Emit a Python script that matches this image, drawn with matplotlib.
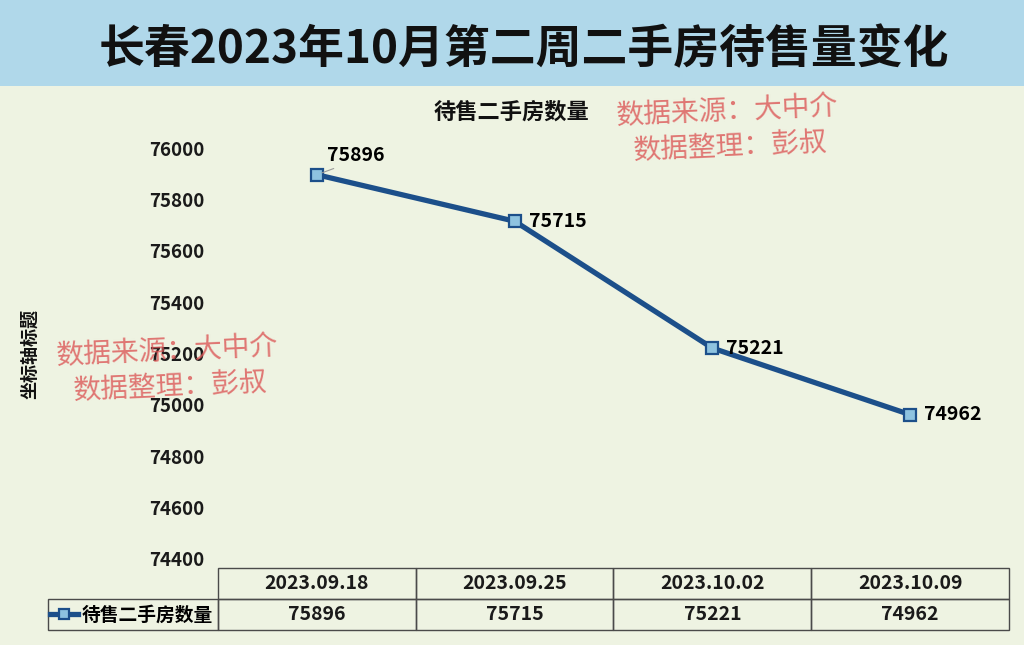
#!/usr/bin/env python3
"""Changchun second-hand housing stock, week 2 of Oct 2023: line chart with data table."""

import matplotlib

matplotlib.use("Agg")
import matplotlib.pyplot as plt
from matplotlib.patches import Rectangle

plt.rcParams["font.family"] = ["Noto Sans CJK SC", "DejaVu Sans"]

TITLE = "长春2023年10月第二周二手房待售量变化"
SERIES_NAME = "待售二手房数量"
AXIS_LABEL = "坐标轴标题"
WATERMARK = ["数据来源：大中介", "数据整理：彭叔"]

dates = ["2023.09.18", "2023.09.25", "2023.10.02", "2023.10.09"]
stock = [75896, 75715, 75221, 74962]
y_ticks = [74400, 74600, 74800, 75000, 75200, 75400, 75600, 75800, 76000]

BG = "#eef3e2"
BANNER = "#b0d8ea"
LINE = "#1c4f8a"
MARKER_FACE = "#8ec3e0"
RED = "#dc5757"

W, H = 1024, 652


def fx(px):
    return px / W


def fy(py):
    return 1 - py / H


def main():
    fig = plt.figure(figsize=(W / 100, H / 100), dpi=100, facecolor=BG)

    # banner + white strip at the bottom
    fig.patches.append(Rectangle((0, fy(86)), 1, 86 / H, transform=fig.transFigure,
                                 facecolor=BANNER, edgecolor="none", zorder=0))
    fig.patches.append(Rectangle((0, 0), 1, 7 / H, transform=fig.transFigure,
                                 facecolor="white", edgecolor="none", zorder=0))

    fig.text(fx(524), fy(50), TITLE, ha="center", va="center",
             fontsize=33, fontweight="bold", color="#111111")

    left, right, top, bottom = 218, 1009, 148, 559
    ax = fig.add_axes([fx(left), fy(bottom), (right - left) / W, (bottom - top) / H])
    ax.set_facecolor("none")
    for sp in ax.spines.values():
        sp.set_visible(False)

    x = list(range(len(dates)))
    line, = ax.plot(x, stock, color=LINE, lw=3.8, marker="s", markersize=8.5,
                    markerfacecolor=MARKER_FACE, markeredgecolor=LINE,
                    markeredgewidth=1.6, clip_on=False, zorder=3)

    ax.set_xlim(-0.5, len(dates) - 0.5)
    ax.set_ylim(y_ticks[0], y_ticks[-1])
    ax.set_xticks([])
    ax.set_yticks(y_ticks)
    ax.tick_params(axis="y", length=0, pad=10, labelsize=13.5)
    for lab in ax.get_yticklabels():
        lab.set_fontweight("bold")
        lab.set_color("#1a1a1a")

    # data labels
    for i, (xi, v) in enumerate(zip(x, stock)):
        if i == 0:
            ax.annotate(f"{v}", (xi, v), xytext=(7, 14), textcoords="offset points",
                        ha="left", va="center", fontsize=14, fontweight="bold",
                        arrowprops=dict(arrowstyle="-", color="#9a9a9a", lw=0.8,
                                        shrinkA=2, shrinkB=4, relpos=(0.3, 0)))
        else:
            ax.annotate(f"{v}", (xi, v), xytext=(10, 0), textcoords="offset points",
                        ha="left", va="center", fontsize=14, fontweight="bold")

    # data table under the plot
    tab_top, tab_bottom = 568, 630
    span = bottom - top
    tb = ax.table(cellText=[[f"{v}" for v in stock]], colLabels=dates, cellLoc="center",
                  bbox=[0, (bottom - tab_bottom) / span, 1, (tab_bottom - tab_top) / span])
    col_w = tb[1, 0].get_width()
    tb.add_cell(1, -1, width=col_w * (left - 48) / ((right - left) / len(dates)),
                height=tb[1, 0].get_height(), text="", loc="left")
    tb.auto_set_font_size(False)
    tb.set_fontsize(14)
    for cell in tb.get_celld().values():
        cell.set_facecolor("none")
        cell.set_edgecolor("#4a4a4a")
        cell.set_linewidth(1.0)
        cell.get_text().set_fontweight("bold")
        cell.get_text().set_color("#1a1a1a")

    ax.legend([line], [SERIES_NAME], loc="center left",
              bbox_to_anchor=((50 - left) / (right - left), (bottom - 615) / span),
              frameon=False, borderpad=0, borderaxespad=0, handlelength=1.5,
              handletextpad=0.2, markerscale=0.9,
              prop={"weight": "bold", "size": 13.5})

    fig.text(fx(511), fy(112), SERIES_NAME, ha="center", va="center",
             fontsize=16, fontweight="bold", color="#111111")
    fig.text(fx(30), fy(354), AXIS_LABEL, ha="center", va="center", rotation=90,
             fontsize=13, fontweight="bold", color="#111111")

    # watermarks
    for cx, cy in [(727, 112), (167, 352)]:
        fig.text(fx(cx), fy(cy), WATERMARK[0], ha="center", va="center", rotation=2.5,
                 fontsize=20, color=RED, alpha=0.8, zorder=5)
        fig.text(fx(cx + 4), fy(cy + 34), WATERMARK[1], ha="center", va="center",
                 rotation=2.5, fontsize=20, color=RED, alpha=0.8, zorder=5)

    fig.savefig("out.png", dpi=100, facecolor=fig.get_facecolor())


if __name__ == "__main__":
    main()
